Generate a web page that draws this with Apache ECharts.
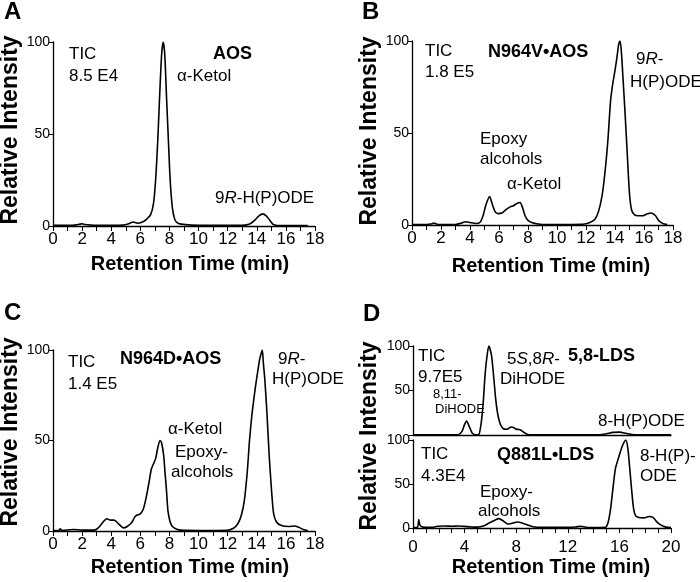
<!DOCTYPE html>
<html>
<head>
<meta charset="utf-8">
<script src="https://cdn.jsdelivr.net/npm/echarts@6/dist/echarts.min.js"></script>
<style>html,body{margin:0;padding:0;background:#fff}#c{width:700px;height:582px}</style>
</head>
<body>
<div id="c"></div>
<script>
// ---- Panel A: AOS ----
var aTime = [0, 0.5, 1, 1.5, 1.8, 2.0, 2.2, 2.6, 3, 4, 4.8, 5.2, 5.5, 5.8, 6.1, 6.4, 6.7, 6.9, 7.05, 7.2, 7.35, 7.47, 7.57, 7.68, 7.8, 7.92, 8.05, 8.2, 8.35, 8.5, 8.8, 9.5, 11, 12, 13, 13.3, 13.6, 13.9, 14.15, 14.4, 14.65, 14.9, 15.1, 15.4, 16, 17, 17.5];
var aIntensity = [0.4, 0.4, 0.4, 0.5, 0.9, 1.2, 0.8, 0.5, 0.4, 0.4, 0.5, 1.2, 2.2, 1.5, 2.0, 3.5, 6, 12, 25, 47, 75, 94, 100, 93, 70, 48, 25, 10, 4, 2, 1, 0.5, 0.4, 0.4, 0.4, 0.6, 1.5, 3.5, 5.5, 6.6, 5.5, 3, 1, 0.3, 0.2, 0.2, 0.2];

// ---- Panel B: N964V•AOS ----
var bTime = [0, 0.5, 1.0, 1.3, 1.5, 1.8, 3, 3.4, 3.7, 4.0, 4.4, 4.7, 4.9, 5.1, 5.35, 5.55, 5.75, 5.95, 6.2, 6.5, 6.8, 7.0, 7.2, 7.45, 7.6, 7.8, 8.0, 8.3, 8.7, 9, 11, 11.9, 12.3, 12.6, 12.85, 13.1, 13.3, 13.5, 13.7, 13.85, 14.0, 14.15, 14.25, 14.35, 14.45, 14.55, 14.7, 14.85, 15.0, 15.15, 15.35, 15.6, 15.9, 16.2, 16.5, 16.8, 17.0, 17.3, 17.6];
var bIntensity = [0.3, 0.3, 0.3, 0.5, 1.0, 0.3, 0.3, 1.0, 1.8, 1.4, 0.8, 1.5, 5, 11, 15.5, 11, 7, 6.2, 6.5, 8.5, 10, 10.5, 11.5, 12.2, 10, 5, 2.5, 1.2, 0.5, 0.3, 0.3, 0.5, 1.5, 3, 7, 15.5, 28, 45, 68, 77, 84, 92, 98, 100, 93, 80, 60, 38, 17, 8, 5.5, 5, 5, 6, 6.5, 5, 2.5, 0.8, 0.3];

// ---- Panel C: N964D•AOS ----
var cTime = [0, 0.4, 0.5, 0.6, 1.4, 2, 2.5, 2.9, 3.2, 3.5, 3.7, 3.95, 4.2, 4.5, 4.85, 5.1, 5.4, 5.6, 5.75, 6.0, 6.2, 6.4, 6.6, 6.75, 6.9, 7.05, 7.2, 7.35, 7.45, 7.6, 7.7, 7.8, 7.9, 8.05, 8.2, 8.5, 8.8, 10, 12, 12.4, 12.7, 12.95, 13.15, 13.35, 13.5, 13.65, 13.8, 13.95, 14.1, 14.2, 14.3, 14.38, 14.45, 14.55, 14.7, 14.85, 15.0, 15.15, 15.35, 15.7, 16.2, 16.6, 16.9, 17.2, 17.5];
var cIntensity = [0.3, 0.3, 1.2, 0.3, 0.8, 0.5, 0.5, 0.6, 2.5, 5.5, 6.8, 6, 6, 4, 1.7, 2.5, 4.5, 7.5, 8.7, 9.5, 12, 18.5, 27, 34, 37, 40, 46, 50, 49, 42, 32, 22, 11, 5, 2.5, 1, 0.5, 0.3, 0.4, 1.5, 4, 9, 17, 33, 50, 63, 73, 82, 90, 95, 98, 100, 93, 84, 65, 42, 24, 10, 5, 3, 2.5, 2.8, 2, 0.8, 0.3];

// ---- Panel D (top): 5,8-LDS ----
var dTopTime = [0, 3.5, 3.8, 4.0, 4.15, 4.35, 4.6, 4.9, 5.1, 5.3, 5.45, 5.6, 5.75, 5.88, 5.95, 6.1, 6.25, 6.4, 6.55, 6.75, 7.0, 7.3, 7.6, 7.8, 8.0, 8.3, 8.6, 8.9, 9.2, 14.5, 15, 15.5, 16, 16.5, 17, 17.5, 20];
var dTopIntensity = [0.2, 0.3, 4, 12, 15.8, 10, 2, 0.3, 0.5, 15, 38, 70, 90, 100, 98, 88, 66, 42, 25, 13, 7, 6.5, 9, 8.5, 6.5, 6, 3, 0.5, 0.2, 0.3, 1.5, 3, 3.2, 2, 0.5, 0.2, 0.2];

// ---- Panel D (bottom): Q881L•LDS ----
var dBotTime = [0, 0.35, 0.45, 0.55, 0.8, 1.5, 1.9, 2.5, 3, 3.5, 4, 4.5, 5, 5.5, 5.9, 6.3, 6.65, 7.0, 7.35, 7.7, 8.1, 8.5, 8.9, 9.3, 10, 11, 12, 12.6, 13, 13.4, 14, 14.9, 15.1, 15.3, 15.5, 15.7, 16.0, 16.25, 16.5, 16.65, 16.8, 16.95, 17.1, 17.25, 17.5, 17.9, 18.3, 18.6, 18.9, 19.2, 19.6, 20];
var dBotIntensity = [0.5, 1, 9.5, 3, 1, 0.8, 2, 2.2, 2, 2.3, 1.8, 1.2, 1, 2.5, 5.7, 8.5, 10.6, 8, 4.5, 5.5, 6.8, 5.5, 3.5, 1.5, 0.8, 0.8, 0.8, 1.2, 2, 0.8, 0.5, 0.8, 5, 20, 45, 68, 83, 94, 100, 91, 68, 43, 22, 14, 12, 11.5, 13, 12, 7, 3.5, 1, 0.5];

// tick labels
var yTicks = [0, 50, 100];
var xMaxAOS = 18, xMaxLDS = 20;

var FONT = "'Liberation Sans', Arial, sans-serif";
function zip(t, v) { return t.map(function (x, i) { return [x, v[i]]; }); }

var chart = echarts.init(document.getElementById('c'), null, {renderer: 'canvas'});

var grids = [
  {left: 53, top: 42, width: 262, height: 184},
  {left: 412, top: 41, width: 261, height: 184},
  {left: 53, top: 350, width: 262, height: 181},
  {left: 413, top: 346, width: 258, height: 89},
  {left: 413, top: 440, width: 258, height: 88}
];

function xAx(gi, max, interval, minorSplit, showLabels, margin, fs) {
  return {
    type: 'value', gridIndex: gi, min: 0, max: max, interval: interval,
    axisLine: {show: true, lineStyle: {color: '#000', width: 1.3}},
    axisTick: {show: showLabels, length: 5, inside: false, lineStyle: {color: '#000', width: 1}},
    minorTick: {show: showLabels, splitNumber: minorSplit, length: 5, lineStyle: {color: '#000', width: 1}},
    axisLabel: {show: showLabels, color: '#000', fontFamily: FONT, fontSize: fs, margin: margin},
    splitLine: {show: false}, minorSplitLine: {show: false}
  };
}
function yAx(gi, hideZero) {
  return {
    type: 'value', gridIndex: gi, min: 0, max: 100, interval: 50,
    axisLine: {show: true, lineStyle: {color: '#000', width: 1.3}},
    axisTick: {show: true, length: 4, lineStyle: {color: '#000', width: 1}},
    axisLabel: {color: '#000', fontFamily: FONT, fontSize: 14, margin: 3,
      formatter: function (v) { return (hideZero && v === 0) ? '' : (yTicks.indexOf(v) >= 0 ? String(v) : ''); }},
    splitLine: {show: false}
  };
}

function lineSeries(idx, data) {
  return {
    type: 'line', xAxisIndex: idx, yAxisIndex: idx, data: data,
    showSymbol: false, smooth: 0.25, clip: true,
    lineStyle: {color: '#000', width: 1.6}, animation: false
  };
}

var NS = 17; // normal annotation size
var BS = 18; // bold annotation size

function txt(x, y, text, opts) {
  opts = opts || {};
  return {
    type: 'text', left: x, top: y,
    style: {
      text: text, fill: '#000',
      font: (opts.bold ? 'bold ' : '') + (opts.size || (opts.bold ? BS : NS)) + 'px ' + FONT
    }
  };
}
function ctext(cx, cy, text, size, rot) {
  return {
    type: 'text', x: cx, y: cy, rotation: rot || 0,
    style: {text: text, fill: '#000', font: 'bold ' + size + 'px ' + FONT, align: 'center', verticalAlign: 'middle'}
  };
}

var richR = {
  n: {fontFamily: FONT, fontSize: NS, color: '#000'},
  i: {fontFamily: FONT, fontSize: NS, fontStyle: 'italic', color: '#000'}
};

var graphics = [
  // panel letters
  txt(4, 0, 'A', {bold: true, size: 24}),
  txt(362, 0, 'B', {bold: true, size: 24}),
  txt(4, 301, 'C', {bold: true, size: 24}),
  txt(363, 302, 'D', {bold: true, size: 24}),
  // axis titles
  ctext(11, 130, 'Relative Intensity', 23, Math.PI / 2),
  ctext(370, 131, 'Relative Intensity', 23, Math.PI / 2),
  ctext(11, 432, 'Relative Intensity', 23, Math.PI / 2),
  ctext(370, 436, 'Relative Intensity', 23, Math.PI / 2),
  ctext(190, 264, 'Retention Time (min)', 20),
  ctext(551, 266, 'Retention Time (min)', 20),
  ctext(190, 567, 'Retention Time (min)', 20),
  ctext(551, 567, 'Retention Time (min)', 20),
  // panel A annotations
  txt(69, 46, 'TIC'), txt(69, 68, '8.5 E4'),
  txt(213, 45, 'AOS', {bold: true}),
  txt(177, 68, 'α-Ketol'),
  {type: 'text', left: 215, top: 190, style: {text: '{n|9}{i|R}{n|-H(P)ODE}', rich: richR}},
  // panel B annotations
  txt(425, 43, 'TIC'), txt(425, 64, '1.8 E5'),
  txt(488, 43, 'N964V•AOS', {bold: true}),
  {type: 'text', left: 636, top: 51, style: {text: '{n|9}{i|R}{n|-}', rich: richR}},
  txt(630, 74, 'H(P)ODE'),
  txt(480, 131, 'Epoxy'), txt(480, 151, 'alcohols'),
  txt(507, 176, 'α-Ketol'),
  // panel C annotations
  txt(68, 354, 'TIC'), txt(68, 376, '1.4 E5'),
  txt(120, 350, 'N964D•AOS', {bold: true}),
  {type: 'text', left: 278, top: 351, style: {text: '{n|9}{i|R}{n|-}', rich: richR}},
  txt(272, 371, 'H(P)ODE'),
  txt(168, 421, 'α-Ketol'),
  txt(175, 444, 'Epoxy-'), txt(171, 464, 'alcohols'),
  // panel D annotations (top)
  txt(418, 348, 'TIC'), txt(418, 369, '9.7E5'),
  txt(433, 388, '8,11-', {size: 13}), txt(435, 403, 'DiHODE', {size: 13}),
  {type: 'text', left: 507, top: 351, style: {text: '{n|5}{i|S}{n|,8}{i|R}{n|-}', rich: richR}},
  txt(500, 371, 'DiHODE'),
  txt(568, 347, '5,8-LDS', {bold: true}),
  txt(598, 413, '8-H(P)ODE'),
  // panel D annotations (bottom)
  txt(421, 446, 'TIC'), txt(421, 468, '4.3E4'),
  txt(497, 446, 'Q881L•LDS', {bold: true}),
  txt(640, 448, '8-H(P)-'), txt(640, 468, 'ODE'),
  txt(480, 484, 'Epoxy-'), txt(478, 503, 'alcohols')
];

var option = {
  animation: false,
  backgroundColor: '#fff',
  grid: grids,
  xAxis: [
    xAx(0, xMaxAOS, 2, 2, true, 5, 17),
    xAx(1, xMaxAOS, 2, 2, true, 5, 17),
    xAx(2, xMaxAOS, 2, 2, true, 5, 17),
    xAx(3, xMaxLDS, 4, 4, false, 5, 17),
    xAx(4, xMaxLDS, 4, 4, true, 11, 17)
  ],
  yAxis: [yAx(0), yAx(1), yAx(2), yAx(3, true), yAx(4)],
  series: [
    lineSeries(0, zip(aTime, aIntensity)),
    lineSeries(1, zip(bTime, bIntensity)),
    lineSeries(2, zip(cTime, cIntensity)),
    lineSeries(3, zip(dTopTime, dTopIntensity)),
    lineSeries(4, zip(dBotTime, dBotIntensity))
  ],
  graphic: graphics
};
chart.setOption(option);
</script>
</body>
</html>
